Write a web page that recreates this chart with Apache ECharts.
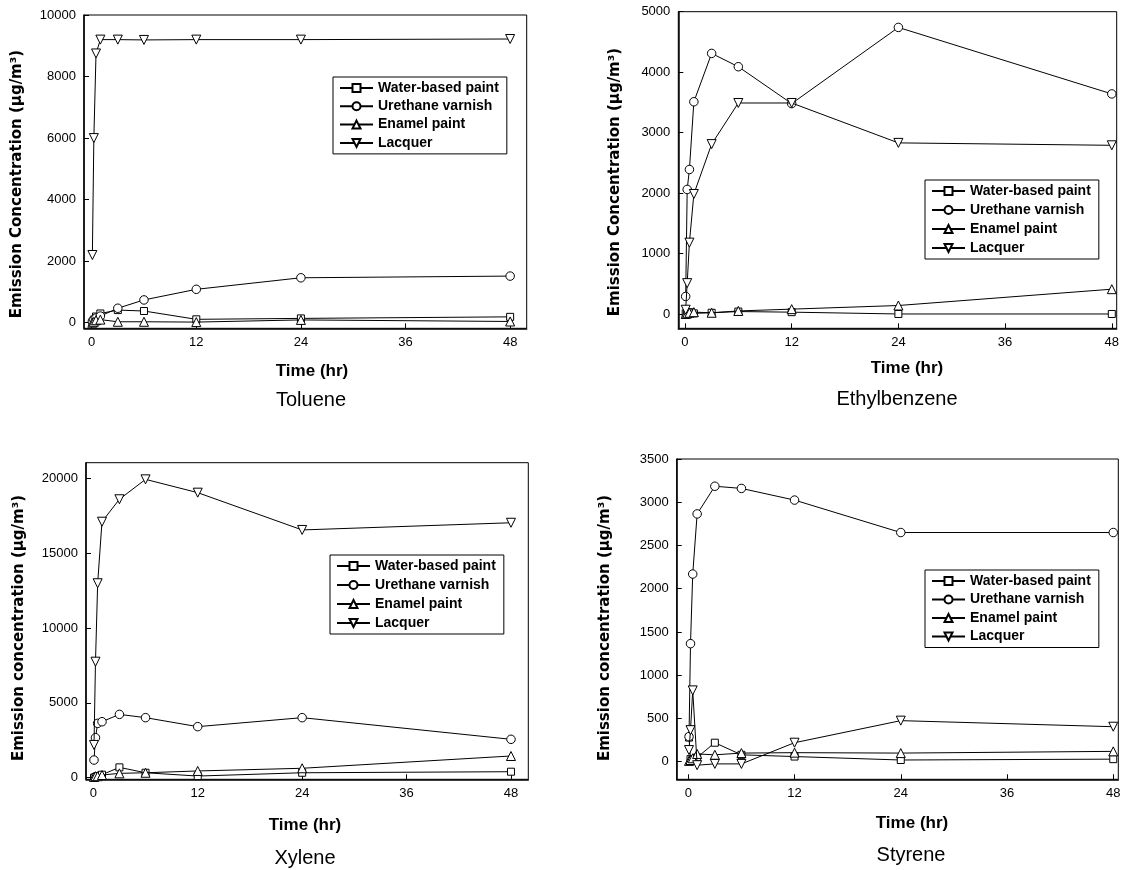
<!DOCTYPE html>
<html><head><meta charset="utf-8">
<script src="https://cdn.jsdelivr.net/npm/echarts@6/dist/echarts.min.js"></script>
<style>html,body{margin:0;padding:0;background:#fff}#c{width:1130px;height:870px}</style>
</head><body><div id="c"></div>
<script>
// ---- data ----
const times = [0.08, 0.25, 0.5, 1, 3, 6, 12, 24, 48];
const seriesNames = ['Water-based paint', 'Urethane varnish', 'Enamel paint', 'Lacquer'];
const xTicks = [0, 12, 24, 36, 48];

const tolueneWater    = [0, 100, 200, 300, 410, 380, 110, 140, 190];
const tolueneUrethane = [50, 100, 150, 215, 470, 740, 1085, 1460, 1515];
const tolueneEnamel   = [0, 30, 80, 100, 30, 30, 20, 90, 40];
const tolueneLacquer  = [2200, 6000, 8750, 9200, 9200, 9190, 9200, 9200, 9220];
const tolueneYTicks   = [0, 2000, 4000, 6000, 8000, 10000];

const ethylWater    = [10, 20, 30, 10, 20, 40, 30, 0, 0];
const ethylUrethane = [290, 2060, 2390, 3510, 4310, 4090, 3480, 4740, 3640];
const ethylEnamel   = [0, 10, 20, 30, 20, 50, 80, 140, 410];
const ethylLacquer  = [70, 510, 1180, 1985, 2810, 3490, 3490, 2830, 2790];
const ethylYTicks   = [0, 1000, 2000, 3000, 4000, 5000];

const xyleneWater    = [0, 50, 100, 200, 690, 330, 110, 330, 400];
const xyleneUrethane = [1180, 2670, 3630, 3740, 4230, 4010, 3410, 4010, 2565];
const xyleneEnamel   = [50, 100, 100, 180, 290, 330, 450, 630, 1450];
const xyleneLacquer  = [2190, 7750, 12990, 17100, 18600, 19930, 19040, 16550, 17030];
const xyleneYTicks   = [0, 5000, 10000, 15000, 20000];

const styreneWater    = [280, 30, 20, 50, 220, 80, 60, 20, 30];
const styreneUrethane = [290, 1365, 2170, 2865, 3185, 3160, 3025, 2650, 2650];
const styreneEnamel   = [10, 20, 40, 90, 80, 100, 105, 100, 120];
const styreneLacquer  = [135, 365, 825, -40, -25, -25, 220, 475, 405];
const styreneYTicks   = [0, 500, 1000, 1500, 2000, 2500, 3000, 3500];

const panelTitles = ['Toluene', 'Ethylbenzene', 'Xylene', 'Styrene'];
const yTitles = ['Emission Concentration (\u03bcg/m\u00b3)', 'Emission Concentration (\u03bcg/m\u00b3)',
                 'Emission concentration (\u03bcg/m\u00b3)', 'Emission concentration (\u03bcg/m\u00b3)'];
const xTitle = 'Time (hr)';

// ---- layout ----
const panels = [
  { grid: {left: 84, top: 15, width: 442.7, height: 313.3}, xr: [-0.88, 49.9], yr: [-182, 10000],
    yTicks: tolueneYTicks, values: [tolueneWater, tolueneUrethane, tolueneEnamel, tolueneLacquer],
    legend: {left: 333, top: 77, itemGap: 4.3}, yT: [17, 184], xT: [312, 371], pT: [311, 400] },
  { grid: {left: 678.3, top: 11.7, width: 438.4, height: 316.6}, xr: [-0.75, 48.55], yr: [-237, 5000],
    yTicks: ethylYTicks, values: [ethylWater, ethylUrethane, ethylEnamel, ethylLacquer],
    legend: {left: 925, top: 180, itemGap: 5}, yT: [615, 182], xT: [907, 368], pT: [897, 399] },
  { grid: {left: 86, top: 462.7, width: 442.3, height: 316.6}, xr: [-0.84, 49.99], yr: [-107, 21042],
    yTicks: xyleneYTicks, values: [xyleneWater, xyleneUrethane, xyleneEnamel, xyleneLacquer],
    legend: {left: 330, top: 555, itemGap: 5}, yT: [19, 628], xT: [305, 825], pT: [305, 858] },
  { grid: {left: 676.7, top: 459, width: 441.6, height: 320.3}, xr: [-1.31, 48.57], yr: [-203, 3500],
    yTicks: styreneYTicks, values: [styreneWater, styreneUrethane, styreneEnamel, styreneLacquer],
    legend: {left: 925, top: 570, itemGap: 4.5}, yT: [605, 628], xT: [912, 823], pT: [911, 855] }
];

const symbols = [
  {symbol: 'rect', size: 7, rotate: 0},
  {symbol: 'circle', size: 8.5, rotate: 0},
  {symbol: 'triangle', size: 9, rotate: 0},
  {symbol: 'triangle', size: 9, rotate: 180}
];

const FONT = '"Liberation Sans", Arial, sans-serif';
const grid = [], xAxis = [], yAxis = [], series = [], legend = [], graphic = [];

panels.forEach((p, i) => {
  grid.push(Object.assign({show: true, borderColor: '#000', borderWidth: 1, backgroundColor: 'transparent'}, p.grid));
  xAxis.push({
    type: 'value', gridIndex: i, min: p.xr[0], max: p.xr[1],
    axisLine: {show: true, onZero: false, lineStyle: {color: '#000', width: 1.5}},
    axisTick: {show: true, inside: true, length: 5, customValues: xTicks, lineStyle: {color: '#000'}},
    axisLabel: {show: true, customValues: xTicks, margin: 8, color: '#000', fontSize: 13, fontFamily: FONT,
                formatter: v => String(v)},
    splitLine: {show: false}
  });
  yAxis.push({
    type: 'value', gridIndex: i, min: p.yr[0], max: p.yr[1],
    axisLine: {show: true, onZero: false, lineStyle: {color: '#000', width: 1.5}},
    axisTick: {show: true, inside: true, length: 5, customValues: p.yTicks, lineStyle: {color: '#000'}},
    axisLabel: {show: true, customValues: p.yTicks, margin: 8, color: '#000', fontSize: 13, fontFamily: FONT,
                formatter: v => String(v)},
    splitLine: {show: false}
  });
  p.values.forEach((vals, k) => {
    series.push({
      name: seriesNames[k], type: 'line', xAxisIndex: i, yAxisIndex: i,
      data: times.map((t, j) => [t, vals[j]]),
      symbol: symbols[k].symbol, symbolSize: symbols[k].size, symbolRotate: symbols[k].rotate,
      showAllSymbol: true, color: '#000',
      lineStyle: {color: '#000', width: 1},
      itemStyle: {color: '#fff', borderColor: '#000', borderWidth: 1},
      emphasis: {disabled: true}, z: 2 + k
    });
  });
  legend.push({
    orient: 'vertical', left: p.legend.left, top: p.legend.top, itemGap: p.legend.itemGap,
    itemWidth: 33, itemHeight: 10, padding: [4, 8, 4, 6],
    borderColor: '#000', borderWidth: 1, backgroundColor: '#fff',
    data: seriesNames, selectedMode: false,
    textStyle: {color: '#000', fontSize: 14, fontWeight: 'bold', fontFamily: FONT, padding: [0, 0, 0, 0]}
  });
  graphic.push({
    type: 'text', x: p.yT[0], y: p.yT[1], rotation: Math.PI / 2,
    style: {text: yTitles[i], textAlign: 'center', textVerticalAlign: 'middle',
            font: 'bold 15px "DejaVu Sans", sans-serif', fill: '#000'}
  });
  graphic.push({
    type: 'text', x: p.xT[0], y: p.xT[1],
    style: {text: xTitle, textAlign: 'center', textVerticalAlign: 'middle',
            font: 'bold 17px "Liberation Sans", Arial, sans-serif', fill: '#000'}
  });
  graphic.push({
    type: 'text', x: p.pT[0], y: p.pT[1],
    style: {text: panelTitles[i], textAlign: 'center', textVerticalAlign: 'middle',
            font: '20px "Liberation Sans", Arial, sans-serif', fill: '#000'}
  });
});

const chart = echarts.init(document.getElementById('c'), null, {renderer: 'canvas'});
chart.setOption({
  animation: false, backgroundColor: '#fff',
  grid, xAxis, yAxis, series, legend, graphic
});
</script>
</body></html>
